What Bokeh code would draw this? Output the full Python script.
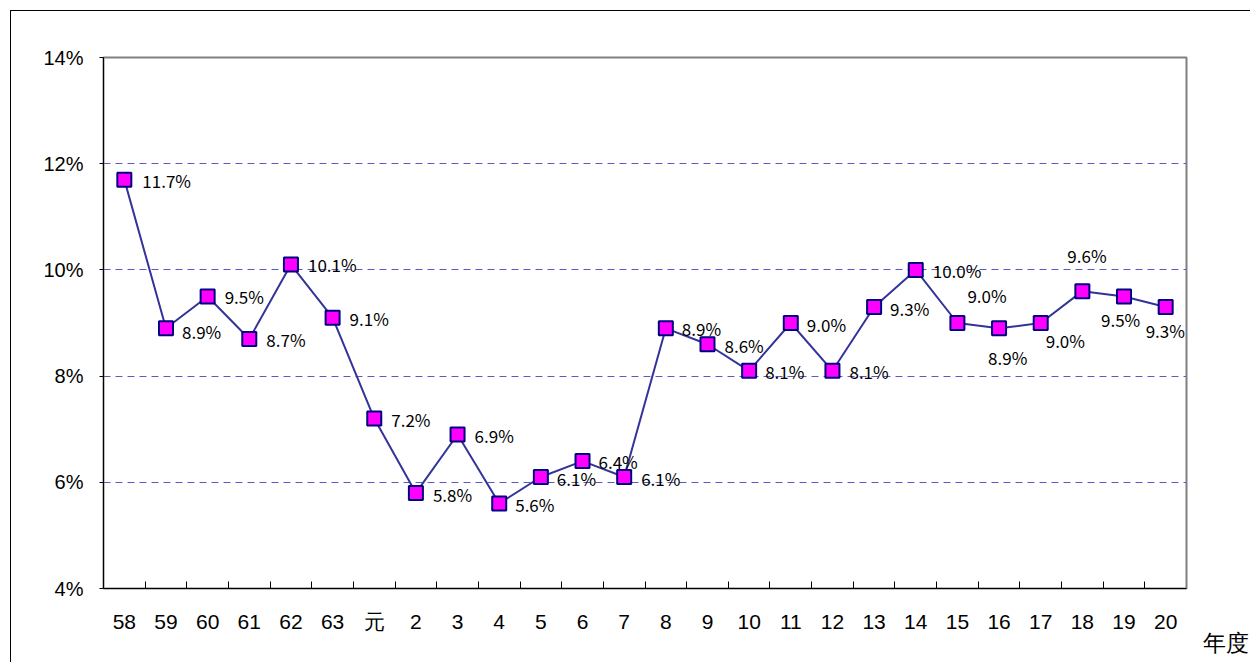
from bokeh.plotting import figure
from bokeh.models import ColumnDataSource, FixedTicker, PrintfTickFormatter, Range1d, Title
from bokeh.core.properties import value
from bokeh.embed import file_html
from bokeh.resources import INLINE

# ---- data ----
years = ["58", "59", "60", "61", "62", "63", "元", "2", "3", "4", "5", "6", "7", "8", "9",
         "10", "11", "12", "13", "14", "15", "16", "17", "18", "19", "20"]
rates = [11.7, 8.9, 9.5, 8.7, 10.1, 9.1, 7.2, 5.8, 6.9, 5.6, 6.1, 6.4, 6.1, 8.9, 8.6,
         8.1, 9.0, 8.1, 9.3, 10.0, 9.0, 8.9, 9.0, 9.6, 9.5, 9.3]
y_ticks = [4, 6, 8, 10, 12, 14]
grid_ticks = [6, 8, 10, 12]
x_unit = "年度"

# label placement (screen px offsets from each point)
lab_dx = [18, 16, 17, 17, 17, 17, 17, 17, 17, 16, 16, 16, 17, 16, 17, 16, 16, 17, 16, 17,
          10, -11, 5, -15, -23, -20]
lab_dy = [1, 3, 0, 1, 0, 1, 1, 2, 1, 1, 2, 0, 2, 0, 1, 1, 1, 1, 1, 1,
          -28, 29, 17, -36, 23, 23]

idx = list(range(len(years)))
src = ColumnDataSource(dict(
    x=idx, y=rates,
    label=[f"{v:.1f}%" for v in rates],
    dx=lab_dx, dy=lab_dy,
))

p = figure(width=1240, height=652, output_backend="svg", toolbar_location=None,
           x_range=Range1d(-0.5, len(years) - 0.5), y_range=Range1d(4, 14),
           min_border_left=92, min_border_right=65, min_border_top=46, min_border_bottom=75)
p.margin = (10, 0, 0, 10)
p.styles = {"border-left": "1px solid #000000", "border-top": "1px solid #000000"}

p.outline_line_color = "#808080"
p.outline_line_width = 2
p.background_fill_color = "white"
p.border_fill_color = "white"

# axes
p.xaxis.ticker = FixedTicker(ticks=idx, minor_ticks=[i + 0.5 for i in idx[:-1]])
p.xaxis.major_label_overrides = {i: y for i, y in zip(idx, years)}
p.xaxis.major_tick_in = 0
p.xaxis.major_tick_out = 0
p.xaxis.minor_tick_in = 7
p.xaxis.minor_tick_out = 0
p.xaxis.minor_tick_line_color = "#000000"
p.xaxis.axis_line_color = "#000000"
p.xaxis.axis_line_width = 1
p.xaxis.major_label_text_font = "Liberation Sans"
p.xaxis.major_label_text_font_size = "21px"
p.xaxis.major_label_text_color = "#000000"
p.xaxis.major_label_standoff = 21

p.yaxis.ticker = FixedTicker(ticks=y_ticks)
p.yaxis.formatter = PrintfTickFormatter(format="%d%%")
p.yaxis.major_tick_in = 0
p.yaxis.major_tick_out = 4
p.yaxis.minor_tick_line_color = None
p.yaxis.axis_line_color = "#000000"
p.yaxis.major_label_text_font = "Liberation Sans"
p.yaxis.major_label_text_font_size = "20px"
p.yaxis.major_label_text_color = "#000000"
p.yaxis.major_label_standoff = 16

p.xgrid.grid_line_color = None
p.ygrid.ticker = FixedTicker(ticks=grid_ticks)
p.ygrid.grid_line_color = "#5a5ac8"
p.ygrid.grid_line_dash = "7 5"
p.ygrid.grid_line_width = 1

# series
p.line("x", "y", source=src, line_color="#333399", line_width=2)
p.scatter("x", "y", source=src, marker="square", size=14, fill_color="#ff00ff",
          line_color="#000080", line_width=2)
p.text("x", "y", text="label", source=src, x_offset="dx", y_offset="dy",
       text_font=value("Noto Sans CJK JP"), text_font_size="17px", text_color="#000000",
       text_align="left", text_baseline="middle")

p.add_layout(Title(text=x_unit, align="right", offset=-62, standoff=-16,
                   text_font="Liberation Sans", text_font_size="23px",
                   text_font_style="normal", text_color="#000000"), "below")

open("out.html", "w").write(file_html(p, INLINE))
